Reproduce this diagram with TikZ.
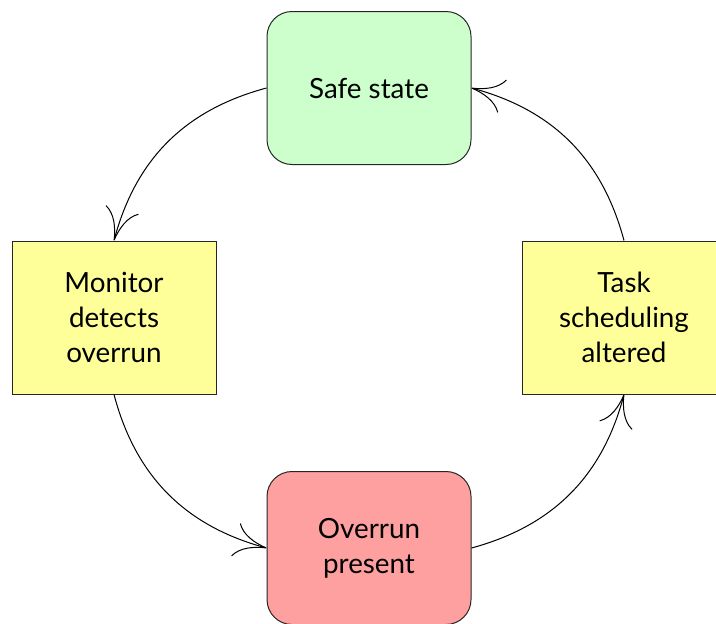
\documentclass[tikz,border=0pt]{standalone}
\usepackage{fontspec}
\setmainfont{Lato}
\usetikzlibrary{arrows.meta}
\definecolor{safegreen}{HTML}{CCFFCC}
\definecolor{stepyellow}{HTML}{FFFF99}
\definecolor{faultred}{HTML}{FFA0A0}
\tikzset{
  box/.style={draw=black!85, line width=0.5pt, minimum width=102pt, minimum height=76.5pt,
    align=center, font=\fontsize{13.9}{17.5}\selectfont, inner sep=2pt},
  roundbox/.style={box, rounded corners=12.5pt},
  flow/.style={line width=0.5pt,
    -{Computer Modern Rightarrow[length=16pt,width=17pt]}, bend right=30},
}
\begin{document}
\begin{tikzpicture}[x=0.5pt,y=-0.5pt]
  \useasboundingbox (0,0) rectangle (716,623);
  \node[roundbox, fill=safegreen] (safe) at (369,88) {Safe state};
  \node[box, fill=stepyellow] (monitor) at (114,317.5) {Monitor\\detects\\overrun};
  \node[box, fill=stepyellow] (task) at (624,317.5) {Task\\scheduling\\altered};
  \node[roundbox, fill=faultred] (overrun) at (369,548) {Overrun\\present};
  \draw[flow] (safe.west) to (monitor.north);
  \draw[flow] (monitor.south) to (overrun.west);
  \draw[flow] (overrun.east) to (task.south);
  \draw[flow] (task.north) to (safe.east);
\end{tikzpicture}
\end{document}
